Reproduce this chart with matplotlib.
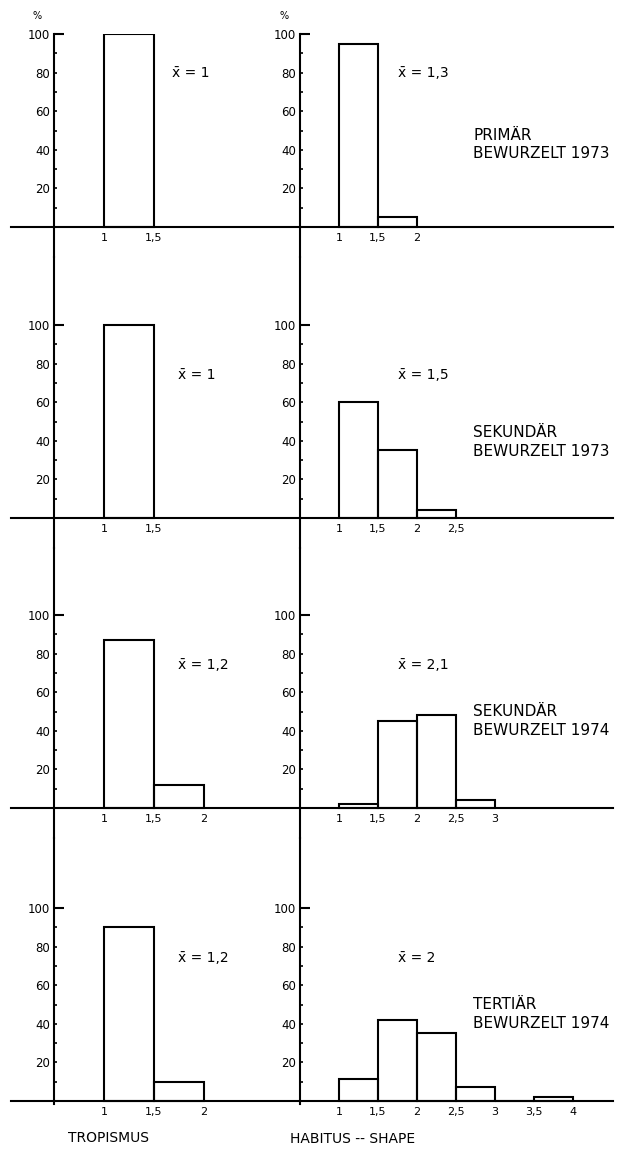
import matplotlib
matplotlib.use("Agg")
import matplotlib.pyplot as plt

# ---------------- data ----------------
bin_width = 0.5
trop_left = [[1], [1], [1, 1.5], [1, 1.5]]
trop_pct = [[100], [100], [87, 12], [90, 10]]
hab_left = [[1, 1.5], [1, 1.5, 2], [1, 1.5, 2, 2.5], [1, 1.5, 2, 2.5, 3, 3.5]]
hab_pct = [[95, 5], [60, 35, 4], [2, 45, 48, 4], [11.5, 42, 35, 7, 0, 2]]
trop_ticks = [[1, 1.5], [1, 1.5], [1, 1.5, 2], [1, 1.5, 2]]
hab_ticks = [[1, 1.5, 2], [1, 1.5, 2, 2.5], [1, 1.5, 2, 2.5, 3], [1, 1.5, 2, 2.5, 3, 3.5, 4]]
trop_means = ["1", "1", "1,2", "1,2"]
hab_means = ["1,3", "1,5", "2,1", "2"]
groups = ["PRIMÄR\nBEWURZELT 1973", "SEKUNDÄR\nBEWURZELT 1973",
          "SEKUNDÄR\nBEWURZELT 1974", "TERTIÄR\nBEWURZELT 1974"]
xlabels = ["TROPISMUS", "HABITUS -- SHAPE"]
ylab = "%"

# ---------------- layout ----------------
W, H = 630, 1154
fig = plt.figure(figsize=(W / 100, H / 100), dpi=100)
plt.rcParams['font.family'] = ['DejaVu Sans']

baselines = [227, 518, 808, 1101]   # px from top
pxu = 1.93                          # px per percent
top0 = 34
bottoms = [b + 30 for b in baselines[:-1]] + [1104]
tops = [top0] + bottoms[:-1]

cols = [
    dict(x0=11, x1=300, ax0=0.5, ppx=100.0),
    dict(x0=300, x1=613, ax0=0.5, ppx=78.0),
]
axis_px = [54, 300]

def fmt(v):
    return f"{v:g}".replace('.', ',')

lw = 1.5
for r in range(4):
    B, T, D = baselines[r], tops[r], bottoms[r]
    for c in range(2):
        cd = cols[c]
        ax = fig.add_axes([cd['x0'] / W, 1 - D / H, (cd['x1'] - cd['x0']) / W, (D - T) / H])
        xl = cd['ax0'] - (axis_px[c] - cd['x0']) / cd['ppx']
        xr = cd['ax0'] + (cd['x1'] - axis_px[c]) / cd['ppx']
        ax.set_xlim(xl, xr)
        ax.set_ylim(-(D - B) / pxu, (B - T) / pxu)
        ax.patch.set_visible(False)
        for s in ['top', 'right']:
            ax.spines[s].set_visible(False)
        ax.spines['left'].set_position(('data', 0.5))
        ax.spines['bottom'].set_position(('data', 0))
        ax.spines['left'].set_linewidth(lw)
        ax.spines['bottom'].set_linewidth(lw)

        lefts = trop_left[r] if c == 0 else hab_left[r]
        vals = trop_pct[r] if c == 0 else hab_pct[r]
        ax.bar(lefts, vals, width=bin_width, align='edge', fill=False,
               edgecolor='black', linewidth=lw)

        ticks = trop_ticks[r] if c == 0 else hab_ticks[r]
        ax.set_xticks(ticks, [fmt(t) for t in ticks])
        ax.tick_params(axis='x', length=0, pad=4, labelsize=8)

        ax.set_yticks([100], ['100'])
        ax.set_yticks([10, 20, 30, 40, 50, 60, 70, 80, 90],
                      ['', '20', '', '40', '', '60', '', '80', ''], minor=True)
        ax.tick_params(axis='y', which='major', direction='in', length=7, width=lw,
                       pad=3, labelsize=8.5)
        ax.tick_params(axis='y', which='minor', direction='in', length=2.5, width=1.2,
                       pad=3, labelsize=8.5)

        if c == 0:
            ax.text(1.68 if r == 0 else 1.74, 80 if r == 0 else 74,
                    "x\u0304 = " + trop_means[r], fontsize=10, va='center', ha='left')
        else:
            ax.text(1.76, 80 if r == 0 else 74,
                    "x\u0304 = " + hab_means[r], fontsize=10, va='center', ha='left')
            gy = [42.7, 39.4, 45, 45][r]
            ax.text(2.72, gy, groups[r], fontsize=11, va='center', ha='left',
                    linespacing=1.3)

fig.text(37 / W, 1 - 16 / H, ylab, fontsize=7, ha='center', va='center')
fig.text(284 / W, 1 - 16 / H, ylab, fontsize=7, ha='center', va='center')
fig.text(108 / W, 1 - 1138 / H, xlabels[0], fontsize=10, ha='center', va='center')
fig.text(353 / W, 1 - 1139 / H, xlabels[1], fontsize=10, ha='center', va='center')

fig.savefig("out.png", dpi=100, facecolor='white')
